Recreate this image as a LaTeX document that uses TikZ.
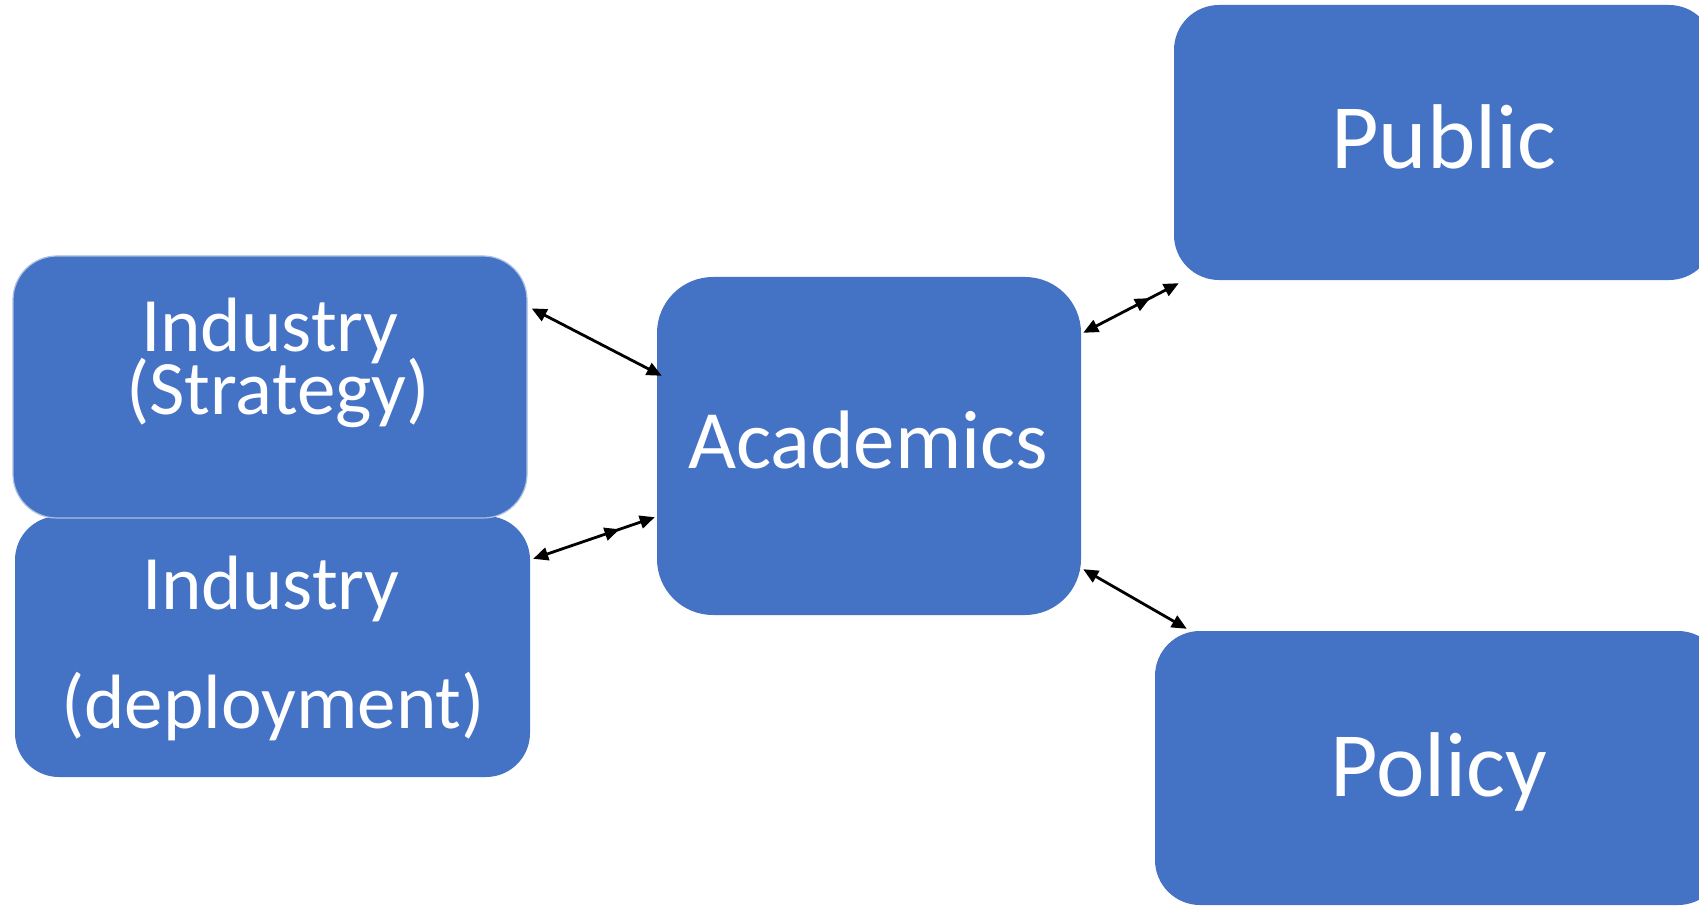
\documentclass[tikz,border=0pt]{standalone}
\usepackage{fontspec}
\setmainfont{Carlito}
\usetikzlibrary{arrows.meta,decorations.markings}
\definecolor{boxblue}{HTML}{4472C4}
\tikzset{
  box/.style={rectangle, fill=boxblue, draw=none, inner sep=0pt},
  boxtext/.style={text=white, anchor=base, inner sep=0pt, align=center},
  link/.style={line width=2.8pt, black,
    {Triangle[length=15pt,width=13pt]}-{Triangle[length=15pt,width=13pt]}},
  midhead/.style={postaction={decorate},
    decoration={markings, mark=at position #1 with {\arrow{Triangle[length=15pt,width=13pt]}}}}
}
\begin{document}
\begin{tikzpicture}[x=1pt,y=-1pt]
\useasboundingbox (0,0) rectangle (1699,909);
\clip (0,0) rectangle (1699,909);
\fill[white] (0,0) rectangle (1699,909);

% boxes
\node[box, rounded corners=44pt, minimum width=515pt, minimum height=261pt] (dep) at (272.5,646.5) {};
\node[box, rounded corners=44pt, minimum width=514pt, minimum height=262pt,
      draw=boxblue!45!white, line width=1.2pt] (strat) at (270,387) {};
\node[box, rounded corners=56pt, minimum width=424pt, minimum height=338pt] (acad) at (869,446) {};
\node[box, rounded corners=45pt, minimum width=540pt, minimum height=275pt] (pub) at (1444,142.5) {};
\node[box, rounded corners=45pt, minimum width=568pt, minimum height=274pt] (pol) at (1439,768) {};

% texts
\node[boxtext, font=\fontsize{77}{61}\selectfont] (stratA) at (270,351) {Industry};
\node[boxtext, font=\fontsize{77}{61}\selectfont] (stratB) at (278,414) {(Strategy)};
\node[boxtext, font=\fontsize{77}{61}\selectfont] (depA) at (271,609) {Industry};
\node[boxtext, font=\fontsize{77}{61}\selectfont] (depB) at (273,728) {(deployment)};
\node[boxtext, font=\fontsize{83}{90}\selectfont] (acadT) at (868,468) {Academics};
\node[boxtext, font=\fontsize{92}{90}\selectfont] (pubT) at (1444,169) {Public};
\node[boxtext, font=\fontsize{92}{90}\selectfont] (polT) at (1439,796) {Policy};

% connectors
\draw[link] ([xshift=4pt,yshift=-53pt]strat.north east) -- ([xshift=5pt,yshift=-99pt]acad.north west);
\draw[link, midhead=0.71] ([xshift=3pt,yshift=-43pt]dep.north east) -- ([xshift=-2pt,yshift=98pt]acad.south west);
\draw[link, midhead=0.70] ([xshift=2pt,yshift=-56pt]acad.north east) -- ([xshift=5pt,yshift=-3pt]pub.south west);
\draw[link] ([xshift=2pt,yshift=46pt]acad.south east) -- ([xshift=32pt,yshift=2pt]pol.north west);
\end{tikzpicture}
\end{document}
